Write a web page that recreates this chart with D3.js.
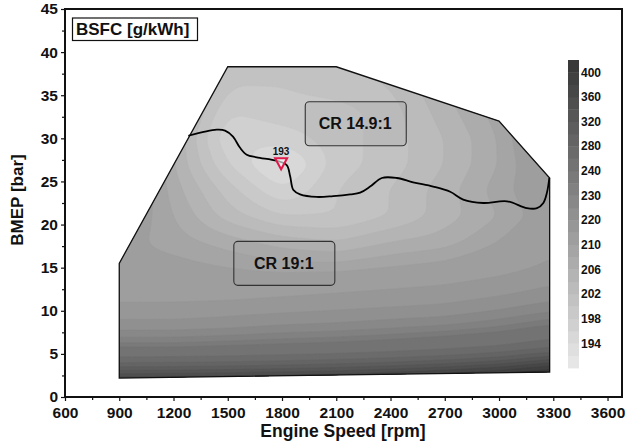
<!DOCTYPE html>
<html>
<head>
<meta charset="utf-8">
<script src="https://cdn.jsdelivr.net/npm/d3@7"></script>
<style>
  body { margin: 0; background: #fff; }
  text { font-family: "Liberation Sans", Arial, sans-serif; font-weight: bold; fill: #111; }
</style>
</head>
<body>
<svg id="chart" width="633" height="442"></svg>
<script>
// --- Data
const rpmCols = [900, 1200, 1500, 1800, 2100, 2400, 2700, 3000, 3300];
const bmepRows = [1, 2, 3, 4, 5, 6, 8, 10, 12, 15, 18, 21, 24, 27, 30, 33, 36, 39];
const bsfc = [
  [440, 440, 440, 440, 440, 440, 440, 440, 440],
  [380, 385, 390, 395, 400, 410, 420, 430, 440],
  [320, 322, 326, 332, 340, 352, 368, 390, 420],
  [275, 276, 278, 282, 288, 296, 308, 325, 360],
  [250, 250, 252, 255, 258, 263, 270, 282, 305],
  [236, 236, 238, 240, 242, 245, 250, 256, 270],
  [223, 223, 224, 226, 227, 229, 231, 235, 242],
  [217, 217, 218, 219, 220, 221, 222, 225, 229],
  [213, 213, 213, 214, 215, 216, 217, 219, 222],
  [211, 211, 210, 209, 209, 210, 211, 213, 216],
  [211, 209, 207, 205, 204, 206, 207, 210, 214],
  [213, 208, 203, 200, 200, 202, 205, 208, 212],
  [215, 207, 201, 196, 200, 202, 205, 209, 213],
  [217, 206, 198, 193, 199, 201, 204, 208, 214],
  [219, 206, 196, 197, 199, 201, 204, 208, 216],
  [221, 207, 198, 199, 199, 201, 205, 209, 217],
  [223, 209, 200, 200, 201, 202, 206, 210, 218],
  [225, 211, 201, 201, 202, 203, 207, 211, 219]
];

// colour levels of the legend (bottom to top)
const levels = [190, 192, 194, 196, 198, 200, 202, 204, 206, 208, 210, 215, 220,
  225, 230, 235, 240, 260, 280, 300, 320, 340, 360, 380, 400, 420];
const legendTicks = [194, 198, 202, 206, 210, 220, 230, 240, 280, 320, 360, 400];

// operating envelope of the engine
const mapRpm = [900, 900, 1500, 2100, 3000, 3280, 3280];
const mapBmep = [2.2, 15.5, 38.3, 38.3, 32.0, 25.4, 2.9];

// switching line between CR 19:1 and CR 14.9:1
const crRpm = [1282, 1439, 1485, 1529, 1568, 1605, 1660, 1771, 1826, 1845, 1863, 1900, 1992,
  2083, 2177, 2232, 2287, 2352, 2435, 2525, 2636, 2730, 2802, 2913, 3044, 3154, 3210, 3245, 3265, 3278];
const crBmep = [30.3, 31.0, 30.9, 30.2, 28.9, 28.1, 27.8, 27.4, 26.9, 25.6, 24.0, 23.5, 23.2,
  23.3, 23.5, 23.7, 24.4, 25.4, 25.4, 24.9, 24.4, 23.8, 22.9, 22.5, 22.7, 21.9, 21.9, 22.5, 23.7, 25.4];

const minPoint = { rpm: 1795, bmep: 27.1, label: "193" };
const regionLabels = [
  { text: "CR 14.9:1", rpm: 2205, bmep: 31.7 },
  { text: "CR 19:1", rpm: 1810, bmep: 15.5 }
];

const svg = d3.select("#chart");

// --- Scales
const x = d3.scaleLinear().domain([600, 3680]).range([65, 622]);
const y = d3.scaleLinear().domain([0, 45]).range([397, 9]);
const bandColor = d3.scaleLinear().domain([0, levels.length - 2]).range(["#e6e6e6", "#393939"]);

// --- Resample the read grid onto a fine grid for the contour generator
const nx = 241, ny = 201, r0 = 900, dr = 10, b0 = 0, db = 0.2;
function clamp(v, lo, hi) { return Math.max(lo, Math.min(hi, v)); }
function bilinear(r, b) {
  const i = clamp(d3.bisectRight(rpmCols, r) - 1, 0, rpmCols.length - 2);
  const j = clamp(d3.bisectRight(bmepRows, b) - 1, 0, bmepRows.length - 2);
  const tx = clamp((r - rpmCols[i]) / (rpmCols[i + 1] - rpmCols[i]), 0, 1);
  const ty = clamp((b - bmepRows[j]) / (bmepRows[j + 1] - bmepRows[j]), 0, 1);
  const a = bsfc[j][i] * (1 - tx) + bsfc[j][i + 1] * tx;
  const c = bsfc[j + 1][i] * (1 - tx) + bsfc[j + 1][i + 1] * tx;
  return a * (1 - ty) + c * ty;
}
let grid = new Float64Array(nx * ny);
for (let j = 0; j < ny; j++)
  for (let i = 0; i < nx; i++)
    grid[j * nx + i] = bilinear(r0 + i * dr, b0 + j * db);

function boxBlur(src, rx, ry) {
  const tmp = new Float64Array(src.length), out = new Float64Array(src.length);
  for (let j = 0; j < ny; j++)
    for (let i = 0; i < nx; i++) {
      let s = 0, n = 0;
      for (let k = -rx; k <= rx; k++) { const ii = clamp(i + k, 0, nx - 1); s += src[j * nx + ii]; n++; }
      tmp[j * nx + i] = s / n;
    }
  for (let j = 0; j < ny; j++)
    for (let i = 0; i < nx; i++) {
      let s = 0, n = 0;
      for (let k = -ry; k <= ry; k++) { const jj = clamp(j + k, 0, ny - 1); s += tmp[jj * nx + i]; n++; }
      out[j * nx + i] = s / n;
    }
  return out;
}
grid = boxBlur(boxBlur(grid, 6, 3), 6, 3);

const contours = d3.contours().size([nx, ny]).thresholds(levels.slice(0, -1))(grid);
const gridToPx = d3.geoTransform({
  point(px, py) { this.stream.point(x(r0 + (px - 0.5) * dr), y(b0 + (py - 0.5) * db)); }
});
const contourPath = d3.geoPath(gridToPx);

// --- Clip to the engine envelope
const envelope = d3.line()(mapRpm.map((r, i) => [x(r), y(mapBmep[i])])) + "Z";
svg.append("clipPath").attr("id", "env").append("path").attr("d", envelope);

svg.append("g")
  .attr("clip-path", "url(#env)")
  .selectAll("path")
  .data(contours)
  .enter()
  .append("path")
  .attr("d", contourPath)
  .attr("fill", d => bandColor(levels.indexOf(d.value)))
  .attr("stroke", d => bandColor(levels.indexOf(d.value)))
  .attr("stroke-width", 0.6);

svg.append("path")
  .attr("d", envelope)
  .attr("fill", "none")
  .attr("stroke", "#111")
  .attr("stroke-width", 1.3);

// --- CR switching line
svg.append("path")
  .attr("d", d3.line().curve(d3.curveCatmullRom.alpha(0.5))(crRpm.map((r, i) => [x(r), y(crBmep[i])])))
  .attr("fill", "none")
  .attr("stroke", "#000")
  .attr("stroke-width", 1.8);

// --- Minimum marker
const mx = x(minPoint.rpm), my = y(minPoint.bmep);
svg.append("path")
  .attr("d", `M${mx - 6},${my - 5}L${mx + 6},${my - 5}L${mx},${my + 6}Z`)
  .attr("fill", "#fff")
  .attr("fill-opacity", 0.6)
  .attr("stroke", "#e0194b")
  .attr("stroke-width", 2);
svg.append("text")
  .attr("x", mx).attr("y", my - 8)
  .attr("text-anchor", "middle")
  .style("font-size", "10px")
  .text(minPoint.label);

// --- Region labels
regionLabels.forEach(d => {
  const g = svg.append("g").attr("transform", `translate(${x(d.rpm)},${y(d.bmep)})`);
  g.append("rect")
    .attr("x", -50).attr("y", -22).attr("width", 101).attr("height", 44)
    .attr("rx", 4)
    .attr("fill", "#999").attr("fill-opacity", 0.2)
    .attr("stroke", "#333").attr("stroke-width", 1.1);
  g.append("text")
    .attr("text-anchor", "middle").attr("dy", "0.35em")
    .style("font-size", "16px")
    .text(d.text);
});

// --- Axes
const xAxis = svg.append("g")
  .attr("transform", "translate(0,397)")
  .call(d3.axisBottom(x).tickValues(d3.range(600, 3601, 300)).tickFormat(d3.format("d")).tickSize(4).tickSizeOuter(0));
svg.append("g")
  .attr("transform", "translate(0,397)")
  .call(d3.axisBottom(x).tickValues(d3.range(750, 3601, 300)).tickFormat("").tickSize(3).tickSizeOuter(0))
  .select(".domain").remove();
const yAxis = svg.append("g")
  .attr("transform", "translate(65,0)")
  .call(d3.axisLeft(y).tickValues(d3.range(0, 46, 5)).tickSize(4).tickSizeOuter(0));
svg.append("g")
  .attr("transform", "translate(65,0)")
  .call(d3.axisLeft(y).tickValues(d3.range(2.5, 45, 5)).tickFormat("").tickSize(3).tickSizeOuter(0))
  .select(".domain").remove();

svg.selectAll(".tick text").style("font-size", "15.5px").attr("fill", "#111");
xAxis.selectAll(".tick text").attr("dy", "0.9em");
svg.selectAll(".tick line").attr("stroke", "#111").attr("stroke-width", 1.2);

// frame
svg.append("rect")
  .attr("x", 65).attr("y", 9).attr("width", 557).attr("height", 388)
  .attr("fill", "none").attr("stroke", "#111").attr("stroke-width", 2);

svg.append("text")
  .attr("x", 343).attr("y", 437)
  .attr("text-anchor", "middle")
  .style("font-size", "17.5px")
  .text("Engine Speed [rpm]");
svg.append("text")
  .attr("transform", "translate(23,200) rotate(-90)")
  .attr("text-anchor", "middle")
  .style("font-size", "17px")
  .text("BMEP [bar]");

// --- Title box
svg.append("rect")
  .attr("x", 72.5).attr("y", 18).attr("width", 125).attr("height", 22.5)
  .attr("fill", "#fff").attr("stroke", "#111").attr("stroke-width", 1.2);
svg.append("text")
  .attr("x", 76).attr("y", 35)
  .style("font-size", "17px")
  .text("BSFC [g/kWh]");

// --- Colour bar
const cb = d3.scaleLinear().domain([0, levels.length - 1]).range([368, 60]);
svg.append("g")
  .selectAll("rect")
  .data(levels.slice(0, -1))
  .enter()
  .append("rect")
  .attr("x", 568)
  .attr("y", (d, i) => cb(i + 1))
  .attr("width", 11)
  .attr("height", (d, i) => cb(i) - cb(i + 1) + 0.4)
  .attr("fill", (d, i) => bandColor(i));
svg.append("g")
  .selectAll("text")
  .data(legendTicks)
  .enter()
  .append("text")
  .attr("x", 581)
  .attr("y", d => cb(levels.indexOf(d)))
  .attr("dy", "0.35em")
  .style("font-size", "12px")
  .text(d => d);
</script>
</body>
</html>
